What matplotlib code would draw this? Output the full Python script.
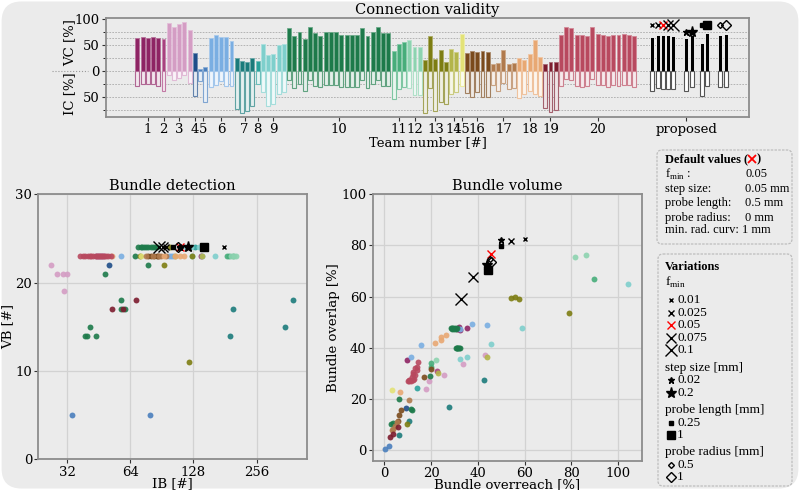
import matplotlib.pyplot as plt
import numpy as np
from matplotlib.patches import FancyBboxPatch
from matplotlib.colors import to_rgb

plt.rcParams['font.family'] = 'DejaVu Serif'
plt.rcParams['mathtext.fontset'] = 'custom'
plt.rcParams['mathtext.rm'] = 'Liberation Serif'

BG = '#ebebeb'

teams = [str(i) for i in range(1, 21)]
team_colors = ['#8e2464', '#a8417f', '#d49dc4', '#1f4e89', '#4a7fbd', '#7aaee2',
               '#1b7b7b', '#2aa19b', '#7ecfcc', '#1d7a4a', '#47ad7a', '#8dd3b0',
               '#7d7d12', '#b3b54a', '#e3e277', '#7a4a1c', '#b07a4d', '#e8a873',
               '#7c1c2e', '#b8495f']

# connection validity per submission (valid / invalid connections, %)
vc = [[63, 65, 63, 65, 63], [62], [93, 85, 90, 94, 79], [35], [4, 8],
      [63, 70, 65, 65, 59], [26, 19, 18, 26], [19], [52, 31, 33, 50, 52],
      [84, 68, 75, 62, 85, 74, 68, 75, 75, 75, 69, 69, 69, 69, 84, 68, 76, 85, 74, 74],
      [38, 53, 56], [60, 46, 46], [21, 68, 24, 40, 18], [42, 37], [71],
      [36, 38, 37, 38, 37], [13, 16, 40, 14, 16], [26, 22, 33, 60, 28], [13, 17, 17],
      [69, 85, 84, 69, 69, 68, 85, 72, 70, 68, 69, 69, 72, 70, 67]]
ic = [[28, 24, 24, 25, 28], [38], [8, 16, 12, 8, 22], [47], [19, 59],
      [31, 26, 19, 29, 29], [72, 80, 77, 67], [25], [40, 66, 63, 43, 40],
      [16, 33, 25, 38, 16, 28, 31, 26, 26, 26, 31, 31, 31, 31, 16, 33, 25, 16, 28, 28],
      [53, 35, 31], [33, 45, 45], [80, 33, 76, 59, 62], [44, 40], [29],
      [41, 50, 40, 49, 50], [27, 38, 22, 34, 32], [52, 44, 38, 44, 48], [70, 79, 74],
      [29, 14, 17, 29, 30, 29, 14, 26, 27, 30, 27, 28, 26, 27, 30]]

# bundle detection: invalid bundles (IB) and valid bundles (VB)
ib = [[139, 45, 47, 44, 46], [48], [26.9, 28.6, 30.6, 32.1, 31.0], [50.8], [33.8, 79.6],
      [57.7, 100, 98, 140, 102], [191.7, 198.7, 350, 383], [129.6],
      [125, 136, 162, 118, 126],
      [48.7, 57.7, 57.7, 60.6, 41, 38.8, 39.9, 43.8, 77.7, 67,
       70, 72, 74, 76, 78, 80, 82, 84, 85.4, 73],
      [186, 190, 198], [193, 200, 204], [92.3, 121.3, 71.5, 99, 126], [140, 105], [72],
      [85.4, 80, 83, 87, 78], [76, 90, 95, 82, 88], [52.5, 104, 110, 115, 93],
      [52.4, 59.3, 68.2],
      [36.8, 38, 39, 40, 41, 41.7, 42.4, 44, 45, 46, 47, 48, 49, 50, 51.7]]
vb = [[23, 23, 23, 23, 23], [23], [22, 21, 21, 21, 19], [22], [5, 5],
      [23, 23, 23, 23, 23], [14, 17, 15, 18], [24], [24, 24, 23, 24, 23],
      [21, 18, 17, 17, 15, 14, 14, 14, 22, 23, 24, 24, 24, 24, 24, 24, 24, 24, 24, 24],
      [23, 23, 23], [23, 23, 23], [22, 11, 23, 24, 23], [23, 23], [23],
      [23, 23, 23, 23, 23], [23, 23, 23, 23, 23], [23, 23, 23, 23, 23], [17, 17, 18],
      [23] * 15]

# bundle volume: overreach and overlap (%)
over = [[9.7, 32, 35.5, 31, 32.5], [22.3], [17.9, 18.9, 25.5, 33.5, 42.9], [9.3], [0.4, 1.9],
        [11.4, 15.7, 32.3, 37.5, 43.7], [6.4, 10.7, 27.6, 42.6], [13.7],
        [32.5, 35.2, 45.6, 58.7, 104.1],
        [28.5, 29, 29.5, 30, 30.5, 31, 29.8, 28.8, 30.5, 31, 31.5, 32, 32.5, 31.2,
         3, 3.6, 6, 11.3, 11.8, 19.4],
        [89.7, 20.1, 19.8], [81.6, 86, 22.2], [54.1, 55.8, 57.7, 79, 9.8], [44, 22.8], [3.4],
        [5.8, 6.1, 7.1, 16.7, 19.9], [10.7, 3.3, 3.8, 5.5, 4.5], [6.8, 21.7, 24, 24.2, 26.5],
        [2.4, 3.6, 5.6],
        [14.5, 13.8, 13.2, 12.4, 12, 11.7, 12.5, 11, 10.7, 10.5, 11.3, 12, 13, 10, 14]]
overlap = [[35.3, 48.3, 47.9, 47.5, 47], [31], [24, 27, 29.6, 33.8, 37.1], [16.6], [0.6, 1.9],
           [36.6, 41, 47.5, 49.5, 49.1], [6.1, 11.3, 16.9, 27.5], [24.4],
           [35.5, 36.6, 41.4, 47.7, 64.8],
           [47.8, 47.8, 47.7, 47.6, 47.5, 47.6, 47.3, 47.5, 40, 40, 40, 40, 40.1, 39.8,
            10.4, 10.9, 20.1, 16, 15.8, 29],
           [67, 34.2, 32.5], [75.3, 76.1, 35.3], [59.4, 60, 59, 53.5, 10.5], [36.5, 30.4], [23.5],
           [11.3, 13.8, 15.6, 28.6, 31.8], [19.5, 7.8, 8.5, 11, 9.5], [22.7, 42.1, 44.4, 43.1, 44.9],
           [5.2, 6.5, 9.1],
           [34.7, 32.7, 32, 30.8, 30, 28.8, 28, 27.5, 27.5, 26.9, 27, 27.5, 29.5, 27, 31.5]]

# proposed method with parameter variations
prop_x = [98.5, 99.5, 100.5, 101.5, 102.5, 105, 106, 108, 109, 111.5, 112.5]
prop_vc = [65, 69, 69, 69, 68, 63, 70, 54, 74, 70, 71]
prop_ic = [37, 33, 34, 34, 34, 38, 31, 47, 28, 31, 30]
prop_ib = [179, 95, 110, 92, 88, 110, 120.6, 101.7, 144, 110, 108]
prop_vb = [24] * 11
prop_over = [60.0, 54.1, 45.6, 37.9, 32.9, 49.7, 44.0, 49.7, 44.2, 45.0, 45.6]
prop_overlap = [82.5, 81.7, 76.5, 67.8, 59.0, 82.0, 72.5, 79.7, 70.5, 74.5, 73.4]
prop_mark_y = [89, 89, 89, 89, 89, 75, 75, 89, 89, 89, 89]
prop_style = [('x', 3, 'k'), ('x', 4.5, 'k'), ('x', 6, 'red'), ('x', 7.5, 'k'), ('x', 9, 'k'),
              ('*', 5, 'k'), ('*', 8, 'k'), ('s', 3.5, 'k'), ('s', 6, 'k'),
              ('D', 3, 'k'), ('D', 5, 'k')]


def lighten(c, f):
    r = np.array(to_rgb(c))
    return tuple(r + (1 - r) * f)


def mark(ax, x, y, st):
    m, ms, c = st
    ax.plot(x, y, marker=m, ms=ms, color=c, mfc='none' if m == 'D' else c, mew=1, zorder=4)


fig = plt.figure(figsize=(8, 4.9), dpi=100)
fig.patch.set_facecolor('white')
fig.patches.append(FancyBboxPatch((0.002, 0.003), 0.996, 0.994,
                                  boxstyle='round,pad=0,rounding_size=0.025',
                                  mutation_aspect=800 / 490,
                                  transform=fig.transFigure, facecolor=BG,
                                  edgecolor='none', zorder=-10))


def style_ax(ax):
    ax.set_facecolor(BG)
    for s in ax.spines.values():
        s.set_color('#8c8c8c')
        s.set_linewidth(1.3)
    ax.tick_params(colors='#333333', labelcolor='black', labelsize=9.5, pad=1.5, length=3)


# ---- Connection validity ----
ax0 = fig.add_axes([0.1325, 0.761, 0.804, 0.202])
style_ax(ax0)
start = 0
centers = []
for t in range(len(teams)):
    n = len(vc[t])
    x = np.arange(start, start + n)
    c = team_colors[t]
    ax0.bar(x, vc[t], width=0.75, color=c, edgecolor=lighten(c, 0.35), lw=0.6, zorder=3)
    ax0.bar(x, -np.array(ic[t]), width=0.75, color=lighten(c, 0.88),
            edgecolor=lighten(c, 0.3), lw=0.8, zorder=3)
    centers.append(start + (n - 1) / 2)
    start += n
ax0.bar(prop_x, prop_vc, width=0.75, color='black', edgecolor='white', lw=0.6, zorder=3)
ax0.bar(prop_x, -np.array(prop_ic), width=0.75, color='white', edgecolor='#555555', lw=0.8, zorder=3)
for x, y, st in zip(prop_x, prop_mark_y, prop_style):
    mark(ax0, x, y, st)

for y in [75, 63, 50, 25, 0, -25, -50, -75]:
    ax0.axhline(y, color='#aaaaaa', ls=(0, (2, 1.5)), lw=0.6, zorder=1)
ax0.set_xlim(-6, 117)
ax0.set_ylim(-88, 102)
ax0.set_yticks([100, 50, 0, -50])
ax0.set_yticklabels(['100', '50', '0', '50'])
ax0.set_yticks([-75, -25, 25, 75], minor=True)
ax0.set_xticks(centers + [np.mean(prop_x)])
ax0.set_xticklabels(teams + ['proposed'])
ax0.set_xlabel('Team number [#]', fontsize=9.5, labelpad=0)
ax0.set_title('Connection validity', fontsize=10.5, pad=3)

# ---- Bundle detection ----
ax1 = fig.add_axes([0.0479, 0.0627, 0.336, 0.541])
style_ax(ax1)
ax1.grid(color='#d2d2d2', lw=0.9, zorder=0)
for t in range(len(teams)):
    ax1.scatter(ib[t], vb[t], s=18, color=team_colors[t], alpha=0.9, lw=0, zorder=3)
for x, y, st in zip(prop_ib, prop_vb, prop_style):
    mark(ax1, x, y, st)
ax1.set_xscale('log', base=2)
ax1.set_xlim(23.3, 446)
ax1.set_ylim(0, 30)
ax1.set_xticks([32, 64, 128, 256])
ax1.set_xticklabels(['32', '64', '128', '256'])
ax1.minorticks_off()
ax1.set_yticks([0, 10, 20, 30])
ax1.set_xlabel('IB [#]', fontsize=9.5, labelpad=-1)
ax1.set_ylabel('VB [#]', fontsize=9.5, labelpad=1)
ax1.set_title('Bundle detection', fontsize=10.5, pad=3)

# ---- Bundle volume ----
ax2 = fig.add_axes([0.466, 0.0598, 0.336, 0.544])
style_ax(ax2)
ax2.grid(color='#d2d2d2', lw=0.9, zorder=0)
for t in range(len(teams)):
    ax2.scatter(over[t], overlap[t], s=18, color=team_colors[t], alpha=0.9, lw=0, zorder=3)
for x, y, st in zip(prop_over, prop_overlap, prop_style):
    mark(ax2, x, y, st)
ax2.set_xlim(-5, 110)
ax2.set_ylim(-4, 100)
ax2.set_xticks([0, 20, 40, 60, 80, 100])
ax2.set_yticks([0, 20, 40, 60, 80, 100])
ax2.set_xlabel('Bundle overreach [%]', fontsize=9.5, labelpad=-1)
ax2.set_ylabel('Bundle overlap [%]', fontsize=9.5, labelpad=1)
ax2.set_title('Bundle volume', fontsize=10.5, pad=3)

# ---- overlay: side labels and legend boxes (pixel coordinates) ----
ov = fig.add_axes([0, 0, 1, 1], zorder=5)
ov.set_xlim(0, 800)
ov.set_ylim(490, 0)
ov.axis('off')
ov.patch.set_alpha(0)
ov.text(70, 43, 'VC [%]', rotation=90, ha='center', va='center', fontsize=9.5)
ov.text(70, 94, 'IC [%]', rotation=90, ha='center', va='center', fontsize=9.5)
ov.plot([52, 88], [71, 71], ls=':', color='#999999', lw=0.8)

for (x0, y0, x1, y1) in [(657, 150, 792, 244), (658, 254, 792, 486)]:
    ov.add_patch(FancyBboxPatch((x0, y0), x1 - x0, y1 - y0,
                                boxstyle='round,pad=0,rounding_size=5',
                                facecolor=BG, edgecolor='#bdbdbd', lw=0.9, ls=(0, (2, 1))))

lf = dict(family='Liberation Serif', fontsize=9, va='center')
fig.canvas.draw()


def right_end(t):
    bb = t.get_window_extent().transformed(ov.transData.inverted())
    return max(bb.x0, bb.x1)


t0 = ov.text(665, 159, 'Default values (', fontweight='bold', **lf)
xe = right_end(t0)
ov.plot(xe + 4, 159.5, marker='x', ms=6, color='red', mew=1.3)
ov.text(xe + 8, 159, ')', fontweight='bold', **lf)
defaults = [('f$_{\\mathrm{min}}$ :', '0.05'), ('step size:', '0.05 mm'),
            ('probe length:', '0.5 mm'), ('probe radius:', '0 mm')]
for i, (k, v) in enumerate(defaults):
    ov.text(665, 174 + 14.5 * i, k, **lf)
    ov.text(745, 174 + 14.5 * i, v, **lf)
t1 = ov.text(665, 230, 'min. rad. curv:', **lf)
ov.text(max(732, right_end(t1) + 3), 230, '1 mm', **lf)

ov.text(665, 267, 'Variations', fontweight='bold', **lf)
groups = [('f$_{\\mathrm{min}}$', 282, ['0.01', '0.025', '0.05', '0.075', '0.1'], prop_style[0:5], 300),
          ('step size [mm]', 368, ['0.02', '0.2'], prop_style[5:7], 380),
          ('probe length [mm]', 410, ['0.25', '1'], prop_style[7:9], 422.5),
          ('probe radius [mm]', 452, ['0.5', '1'], prop_style[9:11], 464.5)]
lf2 = dict(lf, fontsize=9.5)
for head, hy, labs, sty, y0 in groups:
    ov.text(665, hy, head, **lf2)
    for j, (lab, st) in enumerate(zip(labs, sty)):
        y = y0 + 12.5 * j
        mark(ov, 671, y, st)
        ov.text(677, y, lab, color='black', **lf2)

plt.savefig('out.png', dpi=100)
